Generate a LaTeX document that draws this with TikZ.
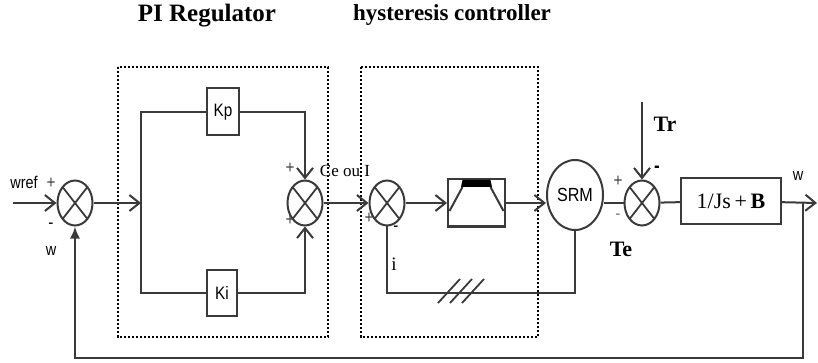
\documentclass[tikz,border=0pt]{standalone}
\usepackage{fontspec}
\setmainfont{Liberation Serif}
\newfontfamily\narrow[FakeStretch=0.85]{Liberation Sans}
\usetikzlibrary{arrows.meta,shapes.geometric,calc}
\definecolor{wire}{HTML}{3A3A3A}

\begin{document}
\begin{tikzpicture}[x=0.5pt,y=-0.5pt,>={Straight Barb[length=5pt,width=8pt]},
  line/.style={draw=wire,line width=1pt},
  sum/.style={ellipse,draw=wire,line width=1pt,minimum width=17.5pt,minimum height=22.5pt,inner sep=0pt,
    path picture={\draw[wire,line width=0.9pt] (path picture bounding box.north west)--(path picture bounding box.south east)
      (path picture bounding box.north east)--(path picture bounding box.south west);}},
  block/.style={draw=wire,line width=1pt,fill=white,inner sep=0pt,font=\narrow\fontsize{9}{10}\selectfont},
  lab/.style={inner sep=0pt,font=\narrow\fontsize{8.5}{9}\selectfont},
  sign/.style={inner sep=0pt,text=black!75,font=\narrow\fontsize{9}{9}\selectfont},
  frame/.style={draw=black,line width=1.3pt,dash pattern=on 1.2pt off 0.8pt}]
\useasboundingbox (0,0) rectangle (818,363);

% titles
\node[font=\bfseries\fontsize{12.5}{14}\selectfont] (pititle) at (207,16) {PI Regulator};
\node[font=\bfseries\fontsize{11.5}{13}\selectfont] (hysttitle) at (452,15) {hysteresis controller};

% dotted frames
\draw[frame] (118,67) rectangle (328,337);
\draw[frame] (361,67) rectangle (538,337);

% blocks
\node[sum] (sumA) at (75,203) {};
\node[block,minimum width=16pt,minimum height=23.5pt] (Kp) at (223,112) {Kp};
\node[block,minimum width=15pt,minimum height=23pt] (Ki) at (222,293) {Ki};
\node[sum] (sumB) at (305,203) {};
\node[sum] (sumC) at (387,203) {};
\node[block,minimum width=28.5pt,minimum height=23.5pt] (hyst) at (476.5,203) {};
\node[ellipse,draw=wire,line width=1pt,minimum width=28pt,minimum height=35pt,inner sep=0pt,
  font=\narrow\fontsize{9.5}{10}\selectfont] (srm) at (575,195) {SRM};
\node[sum] (sumD) at (642,203) {};
\node[block,minimum width=50pt,minimum height=23pt,font=\fontsize{11}{12}\selectfont] (plant) at (731,201) {1/Js\,+\,\textbf{B}};

% hysteresis symbol
\fill[black] ($(hyst)+(-14,-23)$) -- ($(hyst)+(14,-23)$) -- ($(hyst)+(15.5,-16)$) -- ($(hyst)+(-15.5,-16)$) -- cycle;
\draw[line] ($(hyst)+(-14,-16)$) -- ($(hyst)+(-27,8)$);
\draw[line] ($(hyst)+(14,-16)$) -- ($(hyst)+(27,8)$);

% free ends
\coordinate (wrefin) at (13,203);
\coordinate (split) at (141,203);
\coordinate (wout) at (817,203);
\coordinate (tap) at (803,203);
\coordinate (fbot) at (803,358);
\coordinate (trin) at (642,102);
\coordinate (ibot) at (387,293);

% connectors
\draw[line,->] (wrefin) -- (sumA);
\draw[line,->] (sumA) -- (split);
\draw[line] (Kp) -| (split) |- (Ki);
\draw[line,->] (Kp) -| (sumB);
\draw[line,->] (Ki) -| (sumB);
\draw[line,->] (sumB) -- (sumC);
\draw[line,->] (sumC) -- (hyst);
\draw[line,->] (hyst) -- (hyst -| srm.west);
\draw[line] (srm.east |- sumD) -- (sumD);
\draw[line] (sumD) -- (plant);
\draw[line,->] (plant) -- (wout);
\draw[line,-{Latex[length=6pt,width=5pt]}] (tap) -- (fbot) -| (sumA);
\draw[line,->] (trin) -- (sumD);
\draw[line] (srm) |- (ibot) -- (sumC);
\foreach \dx in {0,12,24}
  \draw[wire,line width=0.9pt] (438+\dx,303) -- ++(22,-24);

% labels
\node[lab] (wrefl) at (24,182) {wref};
\node[sign] (plusA) at (51,183) {+};
\node[sign,text=black] (minusA) at (51,226) {-};
\node[lab] (wl) at (51,251) {w};
\node[sign] (plusB1) at (290,168) {+};
\node[sign] (plusB2) at (290,220) {+};
\node[inner sep=0pt,font=\fontsize{8.5}{9}\selectfont] (ceoui) at (345,171) {Ce ou I};
\node[sign] (plusC) at (369,218) {+};
\node[sign,text=black] (minusC) at (396,229) {-};
\node[inner sep=0pt,font=\fontsize{9.5}{10}\selectfont] (il) at (394,264) {i};
\node[sign] (plusD) at (618,181) {+};
\node[sign,text=black!50] (minusD2) at (618,217) {-};
\node[sign,text=black,font=\narrow\bfseries\fontsize{10}{10}\selectfont] (minusD) at (657,169) {-};
\node[inner sep=0pt,font=\bfseries\fontsize{11}{12}\selectfont] (trl) at (665,124) {Tr};
\node[inner sep=0pt,font=\bfseries\fontsize{11}{12}\selectfont] (tel) at (621,249) {Te};
\node[lab] (woutl) at (798,176) {w};
\end{tikzpicture}
\end{document}
